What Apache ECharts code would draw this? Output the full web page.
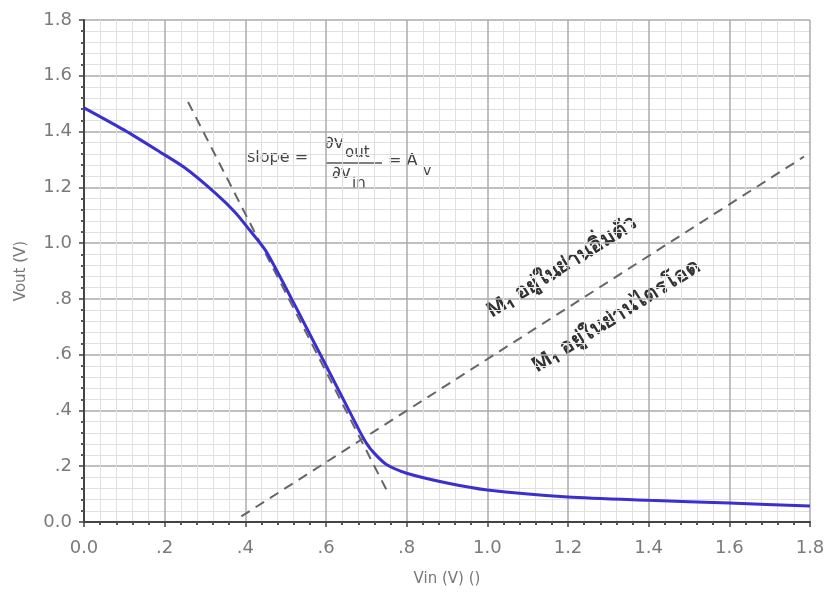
<!DOCTYPE html>
<html>
<head>
<meta charset="utf-8">
<script src="https://cdn.jsdelivr.net/npm/echarts@6/dist/echarts.min.js"></script>
<style>
  html, body { margin: 0; padding: 0; background: #fff; }
  #chart { width: 834px; height: 599px; }
</style>
</head>
<body>
<div id="chart"></div>
<script>
// transfer curve Vout vs Vin
const vin = [0, 0.1, 0.188, 0.25, 0.325, 0.375, 0.41, 0.45, 0.5, 0.55, 0.6, 0.65, 0.68, 0.7, 0.72, 0.75, 0.8, 0.9, 1.0, 1.2, 1.4, 1.6, 1.8];
const vout = [1.485, 1.405, 1.327, 1.27, 1.18, 1.11, 1.048, 0.974, 0.841, 0.701, 0.561, 0.42, 0.335, 0.283, 0.246, 0.206, 0.175, 0.14, 0.115, 0.09, 0.078, 0.068, 0.057];
// tangent (slope) line
const tangentX = [0.258, 0.754];
const tangentY = [1.506, 0.104];
// saturation / triode boundary
const boundaryX = [0.39, 1.785];
const boundaryY = [0.02, 1.31];
const tickLabels = { 0: '0.0', 0.2: '.2', 0.4: '.4', 0.6: '.6', 0.8: '.8', 1: '1.0', 1.2: '1.2', 1.4: '1.4', 1.6: '1.6', 1.8: '1.8' };

const zip = (xs, ys) => xs.map((x, i) => [x, ys[i]]);
const fmt = (v) => tickLabels[Math.round(v * 10) / 10] ?? String(v);

const axisCommon = {
  type: 'value',
  min: 0,
  max: 1.8,
  interval: 0.2,
  axisLine: { onZero: false, lineStyle: { color: '#444', width: 2 } },
  axisTick: { show: true, length: 5, lineStyle: { color: '#444', width: 1.5 } },
  minorTick: { show: true, splitNumber: 5, length: 3, lineStyle: { color: '#555', width: 2 } },
  axisLabel: { color: '#7a7a7a', fontSize: 18, fontFamily: 'DejaVu Sans', formatter: fmt },
  splitLine: { show: true, lineStyle: { color: '#ababab', width: 1.5 } },
  minorSplitLine: { show: true, lineStyle: { color: '#e0e0e0', width: 1 } },
  nameTextStyle: { color: '#777', fontSize: 15, fontFamily: 'DejaVu Sans' },
};

const chart = echarts.init(document.getElementById('chart'));
chart.setOption({
  backgroundColor: '#fff',
  animation: false,
  grid: { left: 84, right: 24, top: 20, bottom: 77 },
  xAxis: Object.assign({}, axisCommon, {
    name: 'Vin (V) ()',
    nameLocation: 'middle',
    nameGap: 50,
    axisLabel: Object.assign({}, axisCommon.axisLabel, { margin: 17 }),
  }),
  yAxis: Object.assign({}, axisCommon, {
    name: 'Vout (V)',
    nameLocation: 'middle',
    nameGap: 55,
    axisLabel: Object.assign({}, axisCommon.axisLabel, { margin: 12 }),
  }),
  series: [
    {
      type: 'line',
      data: zip(vin, vout),
      smooth: 0.25,
      symbol: 'none',
      lineStyle: { color: '#3b2fd0', width: 3 },
      z: 5,
    },
    {
      type: 'line',
      data: zip(tangentX, tangentY),
      symbol: 'none',
      lineStyle: { color: '#666', width: 2, type: [10, 7] },
    },
    {
      type: 'line',
      data: zip(boundaryX, boundaryY),
      symbol: 'none',
      lineStyle: { color: '#666', width: 2, type: [10, 7] },
    },
  ],
  graphic: [
    { type: 'text', x: 247, y: 158, style: { text: 'slope =', font: '16px DejaVu Sans', fill: '#444', verticalAlign: 'middle' } },
    { type: 'text', x: 325, y: 144, style: { text: '∂v', font: '17px DejaVu Sans', fill: '#444', verticalAlign: 'middle' } },
    { type: 'text', x: 345, y: 153, style: { text: 'out', font: '15px DejaVu Sans', fill: '#444', verticalAlign: 'middle' } },
    { type: 'line', shape: { x1: 326, y1: 163, x2: 382, y2: 163 }, style: { stroke: '#555', lineWidth: 1.5 } },
    { type: 'text', x: 332, y: 174, style: { text: '∂v', font: '17px DejaVu Sans', fill: '#444', verticalAlign: 'middle' } },
    { type: 'text', x: 352, y: 184, style: { text: 'in', font: '15px DejaVu Sans', fill: '#444', verticalAlign: 'middle' } },
    { type: 'text', x: 388, y: 161, style: { text: '= A', font: '16px DejaVu Sans', fill: '#444', verticalAlign: 'middle' } },
    { type: 'text', x: 423, y: 171, style: { text: 'v', font: '14px DejaVu Sans', fill: '#444', verticalAlign: 'middle' } },
    {
      type: 'text', x: 562, y: 267, rotation: 0.56,
      style: { text: 'M₁ อยู่ในย่านอิ่มตัว', font: 'bold 21px "Noto Sans", sans-serif', fill: '#333', align: 'center', verticalAlign: 'middle' },
    },
    {
      type: 'text', x: 616, y: 316, rotation: 0.56,
      style: { text: 'M₁ อยู่ในย่านไตรโอด', font: 'bold 21px "Noto Sans", sans-serif', fill: '#333', align: 'center', verticalAlign: 'middle' },
    },
  ],
});
</script>
</body>
</html>
